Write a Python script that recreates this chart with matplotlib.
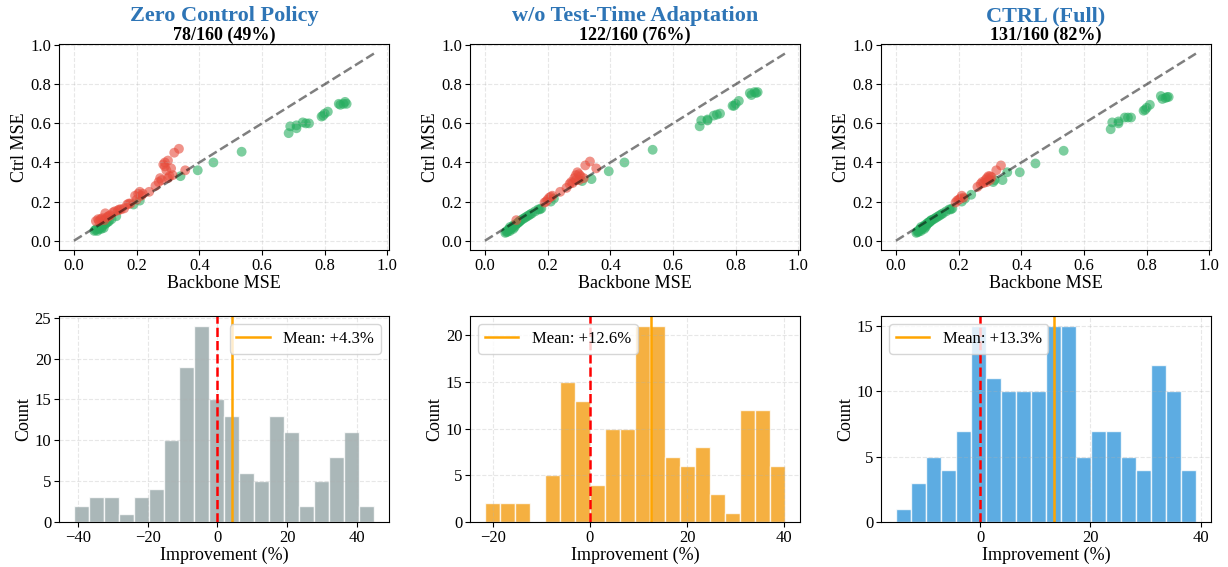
import numpy as np
import matplotlib
matplotlib.use('Agg')
import matplotlib.pyplot as plt
from matplotlib.ticker import MultipleLocator

plt.rcParams['font.family'] = ['Liberation Serif', 'DejaVu Serif']

titles = ['Zero Control Policy', 'w/o Test-Time Adaptation', 'CTRL (Full)']
win_labels = ['78/160 (49%)', '122/160 (76%)', '131/160 (82%)']

# backbone MSE per series (shared by all three variants)
backbone_mse = [
    0.065, 0.068, 0.070, 0.072, 0.075, 0.077, 0.080, 0.080, 0.082, 0.085,
    0.087, 0.090, 0.090, 0.092, 0.095, 0.097, 0.100, 0.100, 0.103, 0.105,
    0.108, 0.110, 0.112, 0.115, 0.120, 0.125, 0.130, 0.135, 0.140, 0.145,
    0.150, 0.160, 0.170, 0.175, 0.180, 0.190, 0.195, 0.200, 0.205, 0.210,
    0.210, 0.215, 0.220, 0.240, 0.260, 0.270, 0.275, 0.280, 0.285, 0.290,
    0.290, 0.295, 0.300, 0.300, 0.305, 0.310, 0.315, 0.320, 0.335, 0.355,
    0.340, 0.395, 0.445, 0.535,
    0.685, 0.690, 0.710, 0.710, 0.730, 0.740, 0.750, 0.790, 0.795, 0.800,
    0.810, 0.845, 0.850, 0.860, 0.865, 0.870,
]

ctrl_zero = [
    0.050, 0.055, 0.100, 0.060, 0.050, 0.110, 0.060, 0.100, 0.065, 0.110,
    0.060, 0.070, 0.115, 0.080, 0.065, 0.105, 0.085, 0.140, 0.090, 0.120,
    0.095, 0.125, 0.100, 0.130, 0.110, 0.145, 0.150, 0.125, 0.155, 0.160,
    0.160, 0.165, 0.185, 0.190, 0.190, 0.185, 0.230, 0.210, 0.240, 0.250,
    0.205, 0.230, 0.240, 0.250, 0.280, 0.300, 0.320, 0.310, 0.390, 0.400,
    0.380, 0.360, 0.410, 0.320, 0.330, 0.370, 0.335, 0.450, 0.470, 0.360,
    0.330, 0.360, 0.400, 0.455,
    0.550, 0.585, 0.575, 0.590, 0.605, 0.600, 0.600, 0.635, 0.640, 0.650,
    0.660, 0.700, 0.695, 0.700, 0.710, 0.700,
]

ctrl_no_tta = [
    0.040, 0.045, 0.050, 0.045, 0.055, 0.060, 0.050, 0.070, 0.060, 0.065,
    0.070, 0.075, 0.060, 0.080, 0.070, 0.080, 0.085, 0.105, 0.090, 0.090,
    0.095, 0.100, 0.100, 0.105, 0.110, 0.115, 0.120, 0.125, 0.130, 0.135,
    0.140, 0.150, 0.160, 0.160, 0.165, 0.195, 0.200, 0.210, 0.220, 0.225,
    0.200, 0.230, 0.215, 0.250, 0.270, 0.290, 0.300, 0.295, 0.320, 0.335,
    0.310, 0.350, 0.340, 0.310, 0.330, 0.305, 0.320, 0.385, 0.405, 0.370,
    0.315, 0.355, 0.400, 0.465,
    0.585, 0.615, 0.615, 0.620, 0.640, 0.645, 0.650, 0.690, 0.690, 0.700,
    0.715, 0.755, 0.745, 0.760, 0.755, 0.760,
]

ctrl_full = [
    0.040, 0.045, 0.050, 0.045, 0.055, 0.060, 0.050, 0.070, 0.060, 0.065,
    0.070, 0.075, 0.060, 0.080, 0.070, 0.080, 0.085, 0.090, 0.090, 0.095,
    0.095, 0.100, 0.105, 0.105, 0.110, 0.115, 0.120, 0.125, 0.130, 0.135,
    0.140, 0.150, 0.160, 0.160, 0.165, 0.195, 0.205, 0.210, 0.215, 0.230,
    0.200, 0.220, 0.215, 0.235, 0.275, 0.290, 0.300, 0.295, 0.310, 0.320,
    0.300, 0.330, 0.330, 0.310, 0.325, 0.300, 0.310, 0.360, 0.385, 0.350,
    0.310, 0.350, 0.395, 0.460,
    0.570, 0.605, 0.600, 0.610, 0.630, 0.630, 0.630, 0.665, 0.670, 0.680,
    0.695, 0.740, 0.725, 0.730, 0.735, 0.735,
]

# improvement histograms (20 bins each)
hist_counts = [
    [2, 3, 3, 1, 3, 4, 10, 19, 24, 15, 13, 6, 5, 13, 11, 2, 5, 8, 11, 2],
    [2, 2, 2, 0, 5, 15, 13, 4, 10, 10, 21, 21, 7, 6, 8, 3, 1, 12, 12, 6],
    [1, 3, 5, 4, 7, 15, 11, 10, 10, 10, 15, 15, 5, 7, 7, 5, 4, 12, 10, 4],
]
hist_lo = [-41.2, -21.6, -15.3]
hist_hi = [44.9, 40.1, 39.15]
mean_impr = [4.3, 12.6, 13.3]

hist_colors = ['#95a5a6', '#f39c12', '#3498db']
legend_locs = ['upper right', 'upper left', 'upper left']
ctrl_all = [ctrl_zero, ctrl_no_tta, ctrl_full]

fig = plt.figure(figsize=(12.28, 5.67), dpi=100)
lefts = [0.048, 0.3827, 0.7174]
w = 0.2687

bb = np.array(backbone_mse)
for i in range(3):
    ctrl = np.array(ctrl_all[i])
    better = ctrl < bb

    ax = fig.add_axes([lefts[i], 0.559, w, 0.363])
    ax.scatter(bb[better], ctrl[better], c='#27ae60', alpha=0.6, s=50, edgecolors='none')
    ax.scatter(bb[~better], ctrl[~better], c='#e74c3c', alpha=0.6, s=50, edgecolors='none')
    lim = 1.1 * bb.max()
    ax.plot([0, lim], [0, lim], 'k--', alpha=0.5, lw=1.8)
    ax.set_xticks(np.arange(0, 1.01, 0.2))
    ax.set_yticks(np.arange(0, 1.01, 0.2))
    ax.set_xlabel('Backbone MSE', fontsize=13, labelpad=1)
    ax.set_ylabel('Ctrl MSE', fontsize=13, labelpad=2)
    ax.tick_params(labelsize=12, pad=2)
    ax.grid(True, linestyle='--', alpha=0.3)
    ax.set_title(win_labels[i], fontsize=13, fontweight='bold', pad=3)
    fig.text(lefts[i] + w / 2, 1 - 16 / 567, titles[i], ha='center', va='center',
             fontsize=16, fontweight='bold', color='#2e75b6')

    ax2 = fig.add_axes([lefts[i], 0.0794, w, 0.363])
    edges = np.linspace(hist_lo[i], hist_hi[i], len(hist_counts[i]) + 1)
    ax2.bar(edges[:-1], hist_counts[i], width=np.diff(edges), align='edge',
            color=hist_colors[i], alpha=0.8, edgecolor='white', linewidth=1)
    ax2.axvline(0, color='red', linestyle='--', lw=1.8)
    ax2.axvline(mean_impr[i], color='orange', lw=1.8, label=f'Mean: +{mean_impr[i]:.1f}%')
    ax2.xaxis.set_major_locator(MultipleLocator(20))
    ax2.set_xlabel('Improvement (%)', fontsize=13, labelpad=1)
    ax2.set_ylabel('Count', fontsize=13, labelpad=2)
    ax2.tick_params(labelsize=12, pad=2)
    ax2.grid(True, linestyle='--', alpha=0.3)
    ax2.legend(loc=legend_locs[i], fontsize=12)

plt.savefig('out.png', dpi=100)
